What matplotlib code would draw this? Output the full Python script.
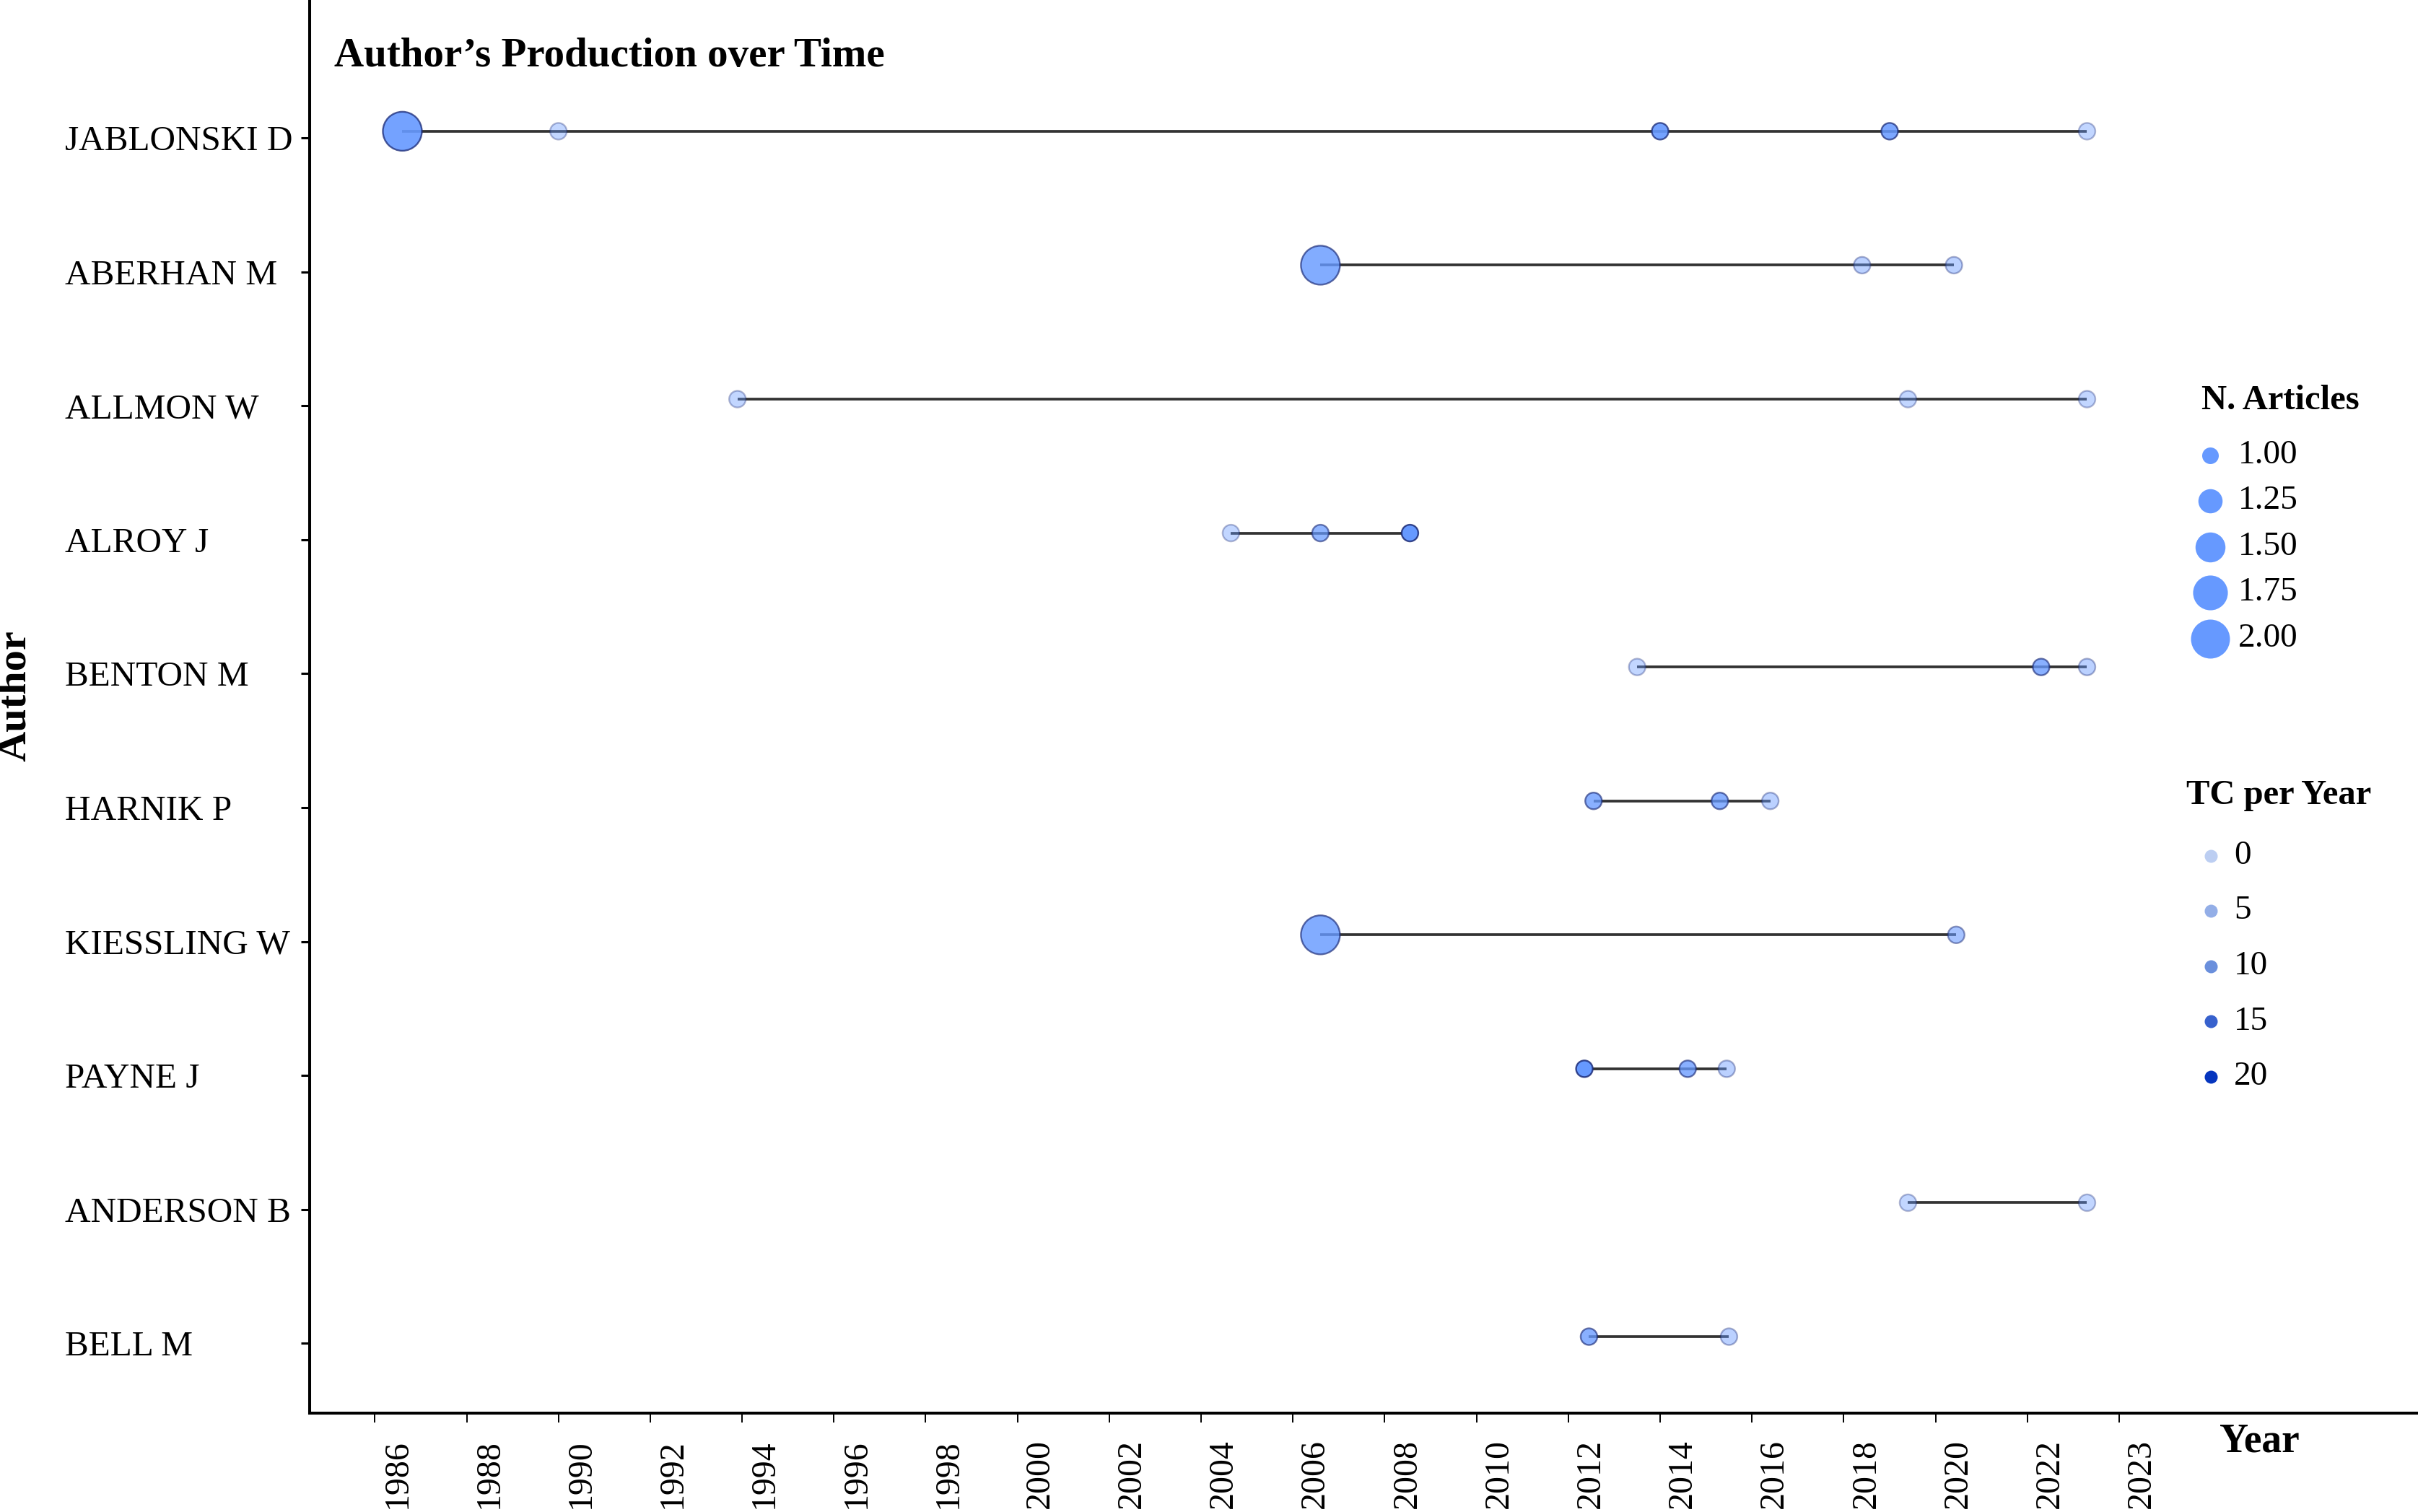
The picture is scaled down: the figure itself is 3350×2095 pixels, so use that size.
import numpy as np
import matplotlib
matplotlib.use('Agg')
import matplotlib.pyplot as plt
from matplotlib.transforms import ScaledTranslation
from matplotlib.colors import LinearSegmentedColormap

plt.rcParams['font.family'] = ['Liberation Serif', 'DejaVu Serif']

# data
authors = ['JABLONSKI D', 'ABERHAN M', 'ALLMON W', 'ALROY J', 'BENTON M',
           'HARNIK P', 'KIESSLING W', 'PAYNE J', 'ANDERSON B', 'BELL M']

pt_author = [0, 0, 0, 0, 0,
             1, 1, 1,
             2, 2, 2,
             3, 3, 3,
             4, 4, 4,
             5, 5, 5,
             6, 6,
             7, 7, 7,
             8, 8,
             9, 9]
pt_year = [1986.6, 1990.0, 2014.0, 2019.0, 2023.3,
           2006.6, 2018.4, 2020.4,
           1993.9, 2019.4, 2023.3,
           2004.65, 2006.6, 2008.55,
           2013.5, 2022.3, 2023.3,
           2012.55, 2015.3, 2016.4,
           2006.6, 2020.45,
           2012.35, 2014.6, 2015.45,
           2019.4, 2023.3,
           2012.45, 2015.5]
pt_articles = [2, 1, 1, 1, 1,
               2, 1, 1,
               1, 1, 1,
               1, 1, 1,
               1, 1, 1,
               1, 1, 1,
               2, 1,
               1, 1, 1,
               1, 1,
               1, 1]
pt_tc = [12, 1, 12, 11, 1,
         10, 2, 2,
         1, 1, 1,
         1, 8, 15,
         1, 9, 2,
         9, 9, 2,
         10, 5,
         16, 9, 2,
         1, 1,
         9, 2]

tick_pos = np.arange(1986, 2025, 2)
tick_labels = [str(y) for y in range(1986, 2023, 2)] + ['2023']

size_levels = [1.00, 1.25, 1.50, 1.75, 2.00]
tc_levels = [0, 5, 10, 15, 20]


def diam_pt(n):
    # area-proportional size scale, diameter in points
    d_px = np.sqrt(23 ** 2 + (54 ** 2 - 23 ** 2) * (np.asarray(n, dtype=float) - 1))
    return d_px * 72 / 100


def tc_alpha(tc):
    return np.minimum(1.0, 0.35 + 0.65 * np.asarray(tc, dtype=float) / 14)


W, H = 3350, 2095
fig = plt.figure(figsize=(W / 100, H / 100), dpi=100)
ax = fig.add_axes([429 / W, 1 - 1958 / H, (W - 429) / W, 1958 / H])

# one line per author, first to last year
pa = np.array(pt_author)
py = np.array(pt_year)
for i in range(len(authors)):
    yrs = py[pa == i]
    ax.plot([yrs.min(), yrs.max()], [i, i], color='#333333', lw=2.7, zorder=1,
            solid_capstyle='butt')

alphas = tc_alpha(pt_tc)
face = np.zeros((len(pt_year), 4))
face[:, :3] = matplotlib.colors.to_rgb('#6699ff')
face[:, 3] = alphas
edge = np.zeros((len(pt_year), 4))
edge[:, :3] = matplotlib.colors.to_rgb('#1c2c78')
edge[:, 3] = alphas * 0.85
ax.scatter(pt_year, pt_author, s=diam_pt(pt_articles) ** 2, c=face,
           edgecolors=edge, linewidths=1.7, zorder=2)

ax.set_xlim(1984.58, 2030.51)
ax.set_ylim(9.571, -0.98)

ax.set_xticks(tick_pos)
ax.set_xticklabels(tick_labels, rotation=90, fontsize=34.5)
ax.set_yticks(np.arange(len(authors)) + 0.05)
ax.set_yticklabels(authors, fontsize=35.5)

for s in ['top', 'right']:
    ax.spines[s].set_visible(False)
for s in ['left', 'bottom']:
    ax.spines[s].set_linewidth(2.9)
ax.tick_params(axis='x', length=9, width=1.4, pad=17)
ax.tick_params(axis='y', length=9, width=2.2, pad=235)
for lbl in ax.get_yticklabels():
    lbl.set_horizontalalignment('left')
shift = ScaledTranslation(0.31, 0, fig.dpi_scale_trans)
for lbl in ax.get_xticklabels():
    lbl.set_transform(lbl.get_transform() + shift)

fig.text(463 / W, 1 - 78 / H, 'Author\u2019s Production over Time', fontsize=41,
         fontweight='bold', ha='left', va='center')
fig.text(21 / W, 1 - 964 / H, 'Author', fontsize=42, fontweight='bold',
         rotation=90, ha='center', va='center')
fig.text(3130 / W, 1 - 1997 / H, 'Year', fontsize=40, fontweight='bold',
         ha='center', va='center')

# legends drawn in pixel space
ov = fig.add_axes([0, 0, 1, 1], facecolor='none')
ov.set_xlim(0, W)
ov.set_ylim(H, 0)
ov.axis('off')

ov.text(3050, 555, 'N. Articles', fontsize=35, fontweight='bold', ha='left', va='center')
for k, v in enumerate(size_levels):
    yy = 630.5 + 63.5 * k
    ov.scatter([3062], [yy], s=diam_pt(v) ** 2, color='#6699ff', linewidths=0)
    ov.text(3101, yy, f'{v:.2f}', fontsize=34, ha='left', va='center')

tc_cmap = LinearSegmentedColormap.from_list('tc', ['#bccef2', '#6a8fdc', '#0535be'])
ov.text(3029, 1102, 'TC per Year', fontsize=35, fontweight='bold', ha='left', va='center')
for k, v in enumerate(tc_levels):
    yy = 1185.5 + 76.6 * k
    ov.scatter([3063], [yy], s=(18 * 0.72) ** 2, color=tc_cmap(v / 20), linewidths=0)
    ov.text(3095, yy, str(v), fontsize=34, ha='left', va='center')

fig.savefig('out.png', dpi=100)
